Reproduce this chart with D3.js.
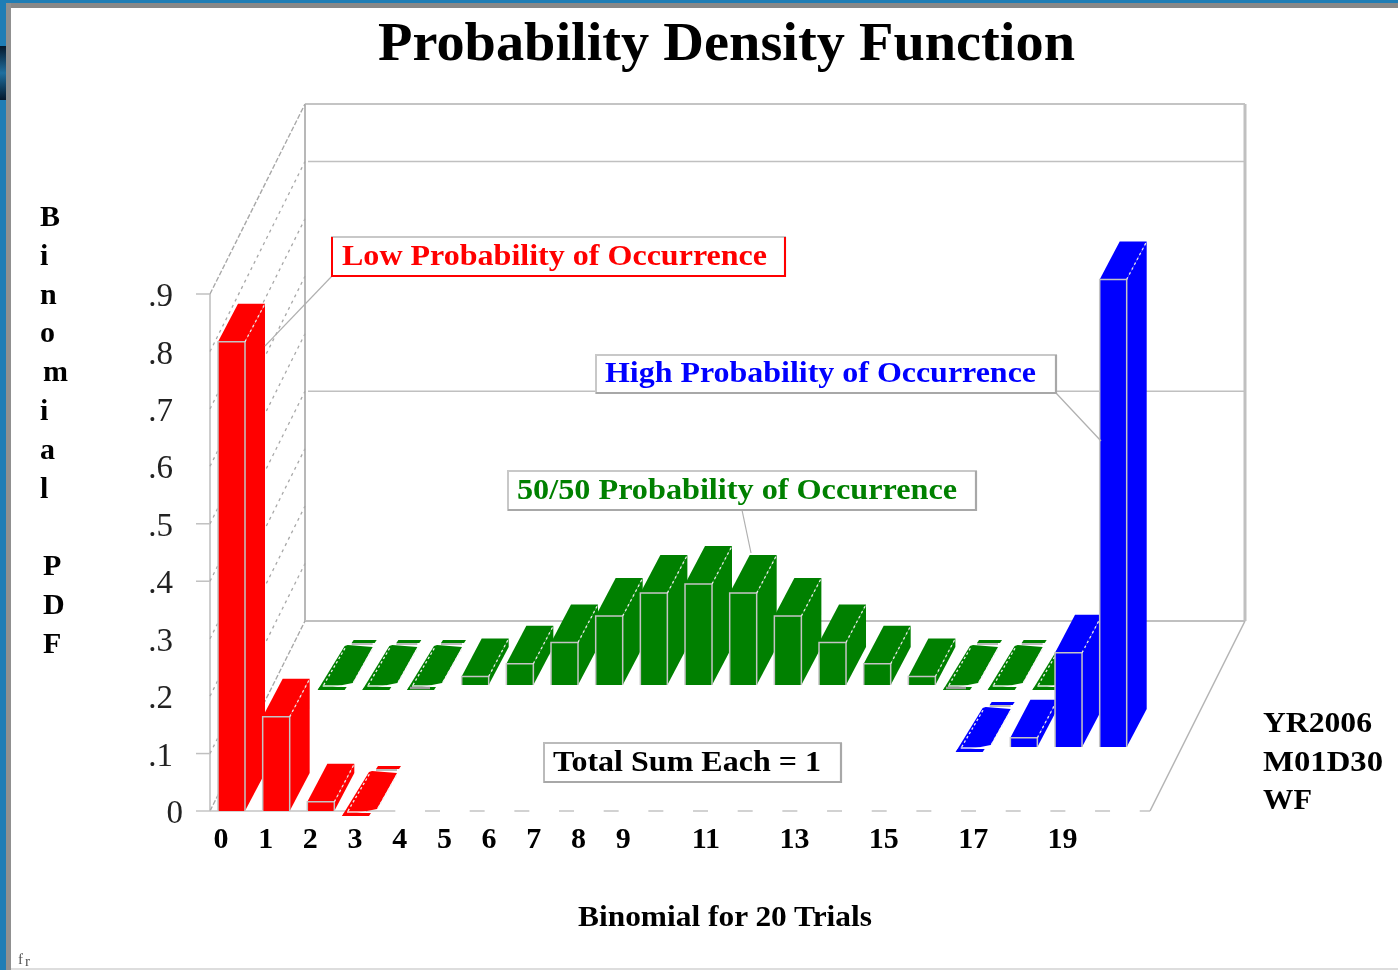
<!DOCTYPE html>
<html><head><meta charset="utf-8">
<script src="https://cdn.jsdelivr.net/npm/d3@7/dist/d3.min.js"></script>
<style>
html,body{margin:0;padding:0;background:#fff;overflow:hidden}
svg{display:block;position:absolute;left:0;top:0}
text{font-family:"Liberation Serif",serif}
</style></head><body>
<svg id="c" width="1398" height="970"></svg>
<script>
const categories = d3.range(20);
const xLabelTicks = [0,1,2,3,4,5,6,7,8,9,11,13,15,17,19];
const yTicks = [0,.1,.2,.3,.4,.5,.6,.7,.8,.9];
const majorYTicks = [0,.1,.4,.5,.9];
const wallGridTicks = [.4,.8];
const rows = ["Low","High","Even"];
const lowValues  = [.817,.164,.016,.001];
const lowPositions = [0,1,2,3];
const evenValues = [.0002,.0011,.0046,.0148,.037,.074,.12,.16,.176,.16,.12,.074,.037,.0148,.0046,.0011,.0002,.00002];
const evenPositions = [1,2,3,4,5,6,7,8,9,10,11,12,13,14,15,16,17,18];
const highValues = [.001,.016,.164,.814];
const highPositions = [16,17,18,19];
const rowColors = {Low:"#ff0000",High:"#0000ff",Even:"#008000"};
const title = "Probability Density Function";
const yTitle = ["B","i","n","o","m","i","a","l","","P","D","F"];
const xTitle = "Binomial for 20 Trials";
const stamp = ["YR2006","M01D30","WF"];

const svg = d3.select("#c");
const defs = svg.append("defs");
const f = defs.append("filter").attr("id","soft").attr("x",0).attr("y",0).attr("width",1398).attr("height",970)
  .attr("filterUnits","userSpaceOnUse");
f.append("feGaussianBlur").attr("stdDeviation",.7);
const grad = defs.append("linearGradient").attr("id","dk").attr("x1",0).attr("x2",0).attr("y1",0).attr("y2",1);
[[0,"#04182c"],[.5,"#1f6f9f"],[1,"#04182c"]].forEach(s=>grad.append("stop").attr("offset",s[0]).attr("stop-color",s[1]));
const root = svg.append("g").attr("filter","url(#soft)");

const x = d3.scaleLinear().domain([0,19]).range([218,1066.7]);
const h = d3.scaleLinear().domain([0,.9]).range([0,517]);
const floorY = 811, floorL = 210, floorR = 1150, wallDx = 95, wallDy = -190;
const y = d3.scaleLinear().domain([0,.9]).range([floorY,floorY-517]);
const rowDx = d3.scaleOrdinal().domain(rows).range([0,33,65]);
const rowDy = d3.scaleOrdinal().domain(rows).range([0,-64,-126]);
const barW = 27, dDx = 20, dDy = -38;
const grey = "#bdbdbd";
const poly = pts => "M"+pts.map(p=>p.join(",")).join("L")+"Z";
const line = (a,b,c,d,col,w,dash)=>root.append("line").attr("x1",a).attr("y1",b).attr("x2",c).attr("y2",d)
   .attr("stroke",col||grey).attr("stroke-width",w||1.5).attr("stroke-dasharray",dash||null);

// walls
const wl = floorL+wallDx, wr = floorR+wallDx, wt = y(.9)+wallDy, wb = floorY+wallDy;
line(wl,wt,wr,wt,"#c4c4c4",2);
line(wl,wt,wl,wb,"#b8b8b8",2);
line(wr,wt,wr,wb,"#c0c0c0",3);
line(wl,wb,wr,wb,"#c0c0c0",2);
line(floorL,y(.9),floorL,floorY,"#bdbdbd",1.5);
line(floorL,y(.9),wl,wt,"#a8a8a8",1.4,"5 2");
line(floorL,floorY,wl,wb,"#a8a8a8",1.4,"5 2");
line(floorR,floorY,wr,wb,"#b5b5b5",1.5);
wallGridTicks.forEach(t=>line(wl+3,y(t)+wallDy,wr,y(t)+wallDy,"#c0c0c0",1.6));
yTicks.filter(t=>t>0&&t<.9).forEach(t=>line(floorL,y(t),wl,y(t)+wallDy,"#a8a8a8",1.3,"3 4"));
// front edge
line(196,floorY,395,floorY,"#c4c4c4",1.5);
root.append("line").attr("x1",395).attr("y1",floorY).attr("x2",floorR).attr("y2",floorY)
  .attr("stroke","#c4c4c4").attr("stroke-width",1.5).attr("stroke-dasharray","15 29.67").attr("stroke-dashoffset",-30);
// y ticks
majorYTicks.filter(t=>t>0).forEach(t=>line(196,y(t),floorL,y(t),"#c0c0c0",1.5));

// bars
function bar(row,pos,val){
  const col = rowColors[row];
  const X = x(pos)+rowDx(row), B = floorY+rowDy(row);
  const g = root.append("g");
  if(val<.006){
    // nearly empty bars: front strip, solid body, back strip, dotted inner edges
    g.append("path").attr("fill",col).attr("d",poly([[X-10,B+5],[X+17,B+5],[X+19,B+2],[X-8,B+2]]));
    g.append("path").attr("fill",col).attr("d",poly([[X-10,B+5],[X+25,B-2],[X+45,B-38],[X+20,B-40],[X+17,B-39]]));
    g.append("path").attr("fill",col).attr("d",poly([[X+24,B-42],[X+47,B-42],[X+49,B-45],[X+26,B-45]]));
    g.append("path").attr("fill","none").attr("stroke","#eee").attr("stroke-width",1.3).attr("stroke-dasharray","2.5 2.5")
      .attr("d",`M${X-4},${B}L${X+18},${B-38}M${X+26},${B-3}L${X+46},${B-38}`);
    g.append("path").attr("fill","none").attr("stroke","#f4f4f4").attr("stroke-width",1.4)
      .attr("d",`M${X-5},${B+1}L${X+14},${B+1}`);
    g.append("path").attr("fill","none").attr("stroke","#aaa").attr("stroke-width",1.6)
      .attr("d",`M${X+24},${B-41}L${X+45},${B-41}`);
    if(val>.003) g.append("path").attr("fill","none").attr("stroke","#999").attr("stroke-width",2.5)
      .attr("d",`M${X-7},${B+3}L${X+13},${B+3}`);
    return;
  }
  const Y = B-h(val);
  g.append("path").attr("fill",col).attr("d",poly([[X,Y],[X+dDx,Y+dDy],[X+barW+dDx,Y+dDy],[X+barW,Y]]));
  g.append("path").attr("fill",col).attr("d",poly([[X+barW,Y],[X+barW+dDx,Y+dDy],[X+barW+dDx,B+dDy],[X+barW,B]]));
  g.append("rect").attr("x",X).attr("y",Y).attr("width",barW).attr("height",B-Y).attr("fill",col);
  g.append("path").attr("fill","none").attr("stroke","#c4c4c4").attr("stroke-width",1.5)
    .attr("d",`M${X},${B}L${X},${Y}L${X+barW},${Y}L${X+barW},${B}`);
  g.append("path").attr("fill","none").attr("stroke","#e8e8e8").attr("stroke-width",1.3).attr("stroke-dasharray","2.5 3")
    .attr("d",`M${X+barW},${Y}L${X+barW+dDx},${Y+dDy}`);
}
evenValues.forEach((v,i)=>bar("Even",evenPositions[i],v));
highValues.forEach((v,i)=>bar("High",highPositions[i],v));
lowValues.forEach((v,i)=>bar("Low",lowPositions[i],v));

// text helper
const T=(s,a,b,size,col,bold,anchor,len)=>{
  const t=root.append("text").attr("x",a).attr("y",b).attr("font-size",size).attr("fill",col)
    .attr("font-weight",bold?"bold":"normal").attr("text-anchor",anchor||"start").text(s);
  if(len) t.attr("textLength",len).attr("lengthAdjust","spacingAndGlyphs");
  return t;
};
T(title,378,60,54,"#000",true,"start",697);
yTitle.forEach((c,i)=>{ if(c) T(c,c==="P"||c==="D"||c==="F"||c==="m"?43:40,226+i*38.8,30,"#000",true); });

// axes
const xLab = d3.scaleLinear().domain([0,19]).range([228,1077]);
const xAxis = root.append("g").attr("transform","translate(0,827)")
  .call(d3.axisBottom(xLab).tickValues(xLabelTicks).tickSize(0).tickPadding(0).tickFormat(d3.format("d")));
xAxis.select(".domain").remove();
xAxis.selectAll("text").attr("font-size",30).attr("font-weight","bold").attr("fill","#000")
  .attr("font-family","Liberation Serif").attr("text-anchor","end");
const yAxis = root.append("g").attr("transform","translate(173,1)")
  .call(d3.axisLeft(y).tickValues(yTicks).tickSize(0).tickPadding(0)
  .tickFormat(v=>v===0?"0":d3.format(".1f")(v).slice(1)));
yAxis.select(".domain").remove();
yAxis.selectAll("text").attr("font-size",33).attr("fill","#222").attr("font-family","Liberation Serif")
  .attr("dx",v=>v===0?10:0);

T(xTitle,578,926,29,"#000",true,"start",294);
T(stamp[0],1263,732,30,"#000",true,"start",109);
T(stamp[1],1263,771,30,"#000",true,"start",120);
T(stamp[2],1263,809,30,"#000",true,"start",49);
T("f",18,964,15,"#555",false).attr("font-family","Liberation Sans");
T("r",25,966,15,"#555",false).attr("font-family","Liberation Sans");

// callouts
function box(label,a,b,c,d,col,tx,ty,tlen,edge,lead){
  if(lead) line(lead[0],lead[1],lead[2],lead[3],"#b0b0b0",1.2);
  root.append("rect").attr("x",a).attr("y",b).attr("width",c-a).attr("height",d-b).attr("fill","#fff").attr("stroke",edge).attr("stroke-width",2);
  root.append("path").attr("fill","none").attr("stroke","#a8a8a8").attr("stroke-width",2.2).attr("d",`M${a},${d}L${c},${d}L${c},${b}`);
  if(col==="#ff0000") root.append("path").attr("fill","none").attr("stroke",col).attr("stroke-width",2).attr("d",`M${c},${b}L${c},${d}L${a},${d}L${a},${b}`);
  T(label,tx,ty,30,col,true,"start",tlen);
}
box("Low Probability of Occurrence",332,237,785,276,"#ff0000",342,265,425,"#c8c8c8",[332,276,265,346]);
box("High Probability of Occurrence",596,355,1056,393,"#0000ff",605,382,431,"#c8c8c8",[1056,393,1101,441]);
box("50/50 Probability of Occurrence",508,471,976,510,"#008000",517,499,440,"#c8c8c8",[742,510,751,553]);
box("Total Sum Each = 1",544,743,841,782,"#000",553,771,268,"#bbb",null);

// window frame
const frame = svg.append("g");
frame.append("rect").attr("x",0).attr("y",0).attr("width",1398).attr("height",3).attr("fill","#1f7db5");
frame.append("rect").attr("x",6).attr("y",3).attr("width",1392).attr("height",5).attr("fill","#888");
frame.append("rect").attr("x",0).attr("y",0).attr("width",6).attr("height",970).attr("fill","#1f7db5");
frame.append("rect").attr("x",6).attr("y",3).attr("width",5).attr("height",967).attr("fill","#909090");
frame.append("rect").attr("x",0).attr("y",46).attr("width",6).attr("height",54).attr("fill","url(#dk)");
frame.append("rect").attr("x",11).attr("y",968).attr("width",1387).attr("height",2).attr("fill","#ddd");
</script></body></html>
